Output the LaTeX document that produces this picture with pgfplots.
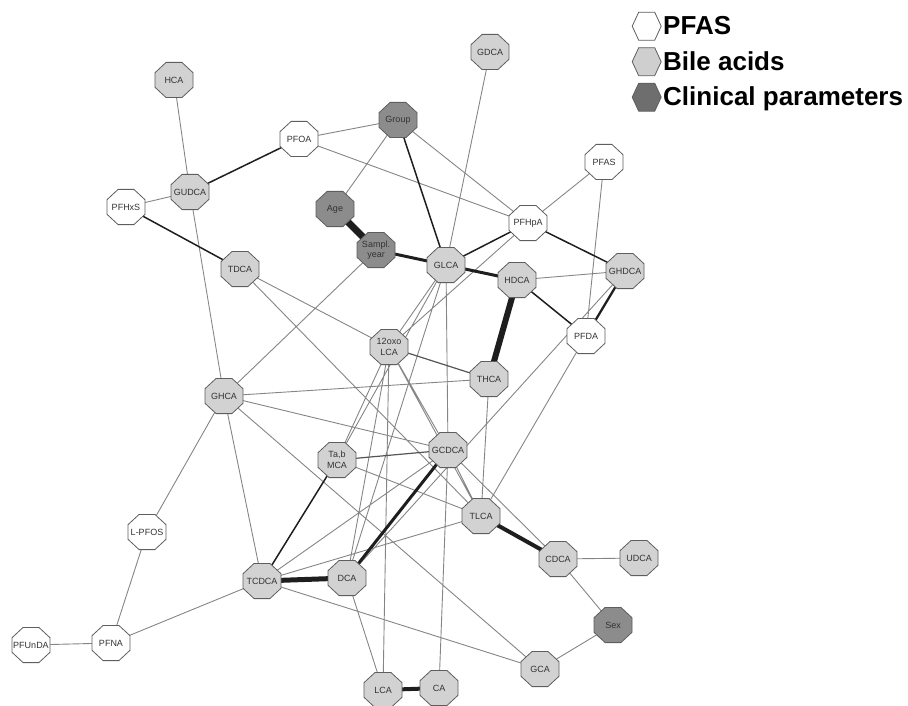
\documentclass[border=0pt]{standalone}
\usepackage{fontspec}
\setmainfont{Liberation Sans}
\usepackage{pgfplots}
\pgfplotsset{compat=1.18}
\definecolor{pfasfill}{HTML}{FFFFFF}
\definecolor{bafill}{HTML}{D2D2D2}
\definecolor{clfill}{HTML}{8C8C8C}
\definecolor{nodeborder}{HTML}{5E5E5E}
\definecolor{thinedge}{HTML}{858585}
\definecolor{midedge}{HTML}{555555}
\definecolor{darkedge}{HTML}{1E1E1E}
\definecolor{labelcol}{HTML}{333333}
\definecolor{legdark}{HTML}{6E6E6E}
\definecolor{leglight}{HTML}{CFCFCF}

\pgfdeclareplotmark{octo}{%
 \pgfpathmoveto{\pgfqpoint{19pt}{7.3pt}}%
 \pgfpathlineto{\pgfqpoint{7.9pt}{17.6pt}}%
 \pgfpathlineto{\pgfqpoint{-7.9pt}{17.6pt}}%
 \pgfpathlineto{\pgfqpoint{-19pt}{7.3pt}}%
 \pgfpathlineto{\pgfqpoint{-19pt}{-7.3pt}}%
 \pgfpathlineto{\pgfqpoint{-7.9pt}{-17.6pt}}%
 \pgfpathlineto{\pgfqpoint{7.9pt}{-17.6pt}}%
 \pgfpathlineto{\pgfqpoint{19pt}{-7.3pt}}%
 \pgfpathclose
 \pgfusepathqfillstroke}
\pgfdeclareplotmark{hexa}{%
 \pgfpathmoveto{\pgfqpoint{14.5pt}{0pt}}%
 \pgfpathlineto{\pgfqpoint{8pt}{14pt}}%
 \pgfpathlineto{\pgfqpoint{-8pt}{14pt}}%
 \pgfpathlineto{\pgfqpoint{-14.5pt}{0pt}}%
 \pgfpathlineto{\pgfqpoint{-8pt}{-14pt}}%
 \pgfpathlineto{\pgfqpoint{8pt}{-14pt}}%
 \pgfpathclose
 \pgfusepathqfillstroke}

\begin{document}
\begin{tikzpicture}
\begin{axis}[name=ax,
  width=908pt, height=706pt, scale only axis,
  xmin=0, xmax=908, ymin=0, ymax=706, y dir=reverse,
  hide axis, clip=false, unbounded coords=jump,
  legend style={at={(axis cs:629,10)}, anchor=north west, draw=none, fill=none,
    font=\bfseries\fontsize{26}{29}\selectfont, row sep=7.5pt,
    nodes={inner sep=2pt},
    /tikz/every even column/.append style={column sep=4pt}},
  legend cell align=left,
  nodelbl/.style={point meta=explicit symbolic, nodes near coords,
    nodes near coords align=center,
    every node near coord/.append style={anchor=center, font=\fontsize{9}{10.5}\selectfont,
      text=labelcol, align=center, inner sep=0pt}},
]
% ---- thin edges
\addplot[forget plot, no markers, thinedge, line width=0.9pt] coordinates {
(174,80) (190,192) (nan,nan)
(190,192) (126,207) (nan,nan)
(190,192) (224,396) (nan,nan)
(299,139) (398,120) (nan,nan)
(299,139) (528,223) (nan,nan)
(398,120) (335,209) (nan,nan)
(398,120) (528,223) (nan,nan)
(376,250) (224,396) (nan,nan)
(490,52) (446,265) (nan,nan)
(604,162) (528,223) (nan,nan)
(604,162) (586,336) (nan,nan)
(528,223) (389,347) (nan,nan)
(517,280) (625,271) (nan,nan)
(625,271) (347,578) (nan,nan)
(586,336) (481,516) (nan,nan)
(446,265) (389,347) (nan,nan)
(446,265) (337,460) (nan,nan)
(446,265) (347,578) (nan,nan)
(446,265) (448,450) (nan,nan)
(448,450) (439,688) (nan,nan)
(240,269) (389,347) (nan,nan)
(240,269) (481,516) (nan,nan)
(389,347) (337,460) (nan,nan)
(389,347) (347,578) (nan,nan)
(389,347) (383,690) (nan,nan)
(389,347) (448,450) (nan,nan)
(389,347) (481,516) (nan,nan)
(489,379) (224,396) (nan,nan)
(489,379) (481,516) (nan,nan)
(224,396) (448,450) (nan,nan)
(224,396) (540,669) (nan,nan)
(224,396) (262,581) (nan,nan)
(224,396) (147,532) (nan,nan)
(147,532) (111,643) (nan,nan)
(111,643) (31,645) (nan,nan)
(111,643) (262,581) (nan,nan)
(262,581) (448,450) (nan,nan)
(262,581) (481,516) (nan,nan)
(262,581) (540,669) (nan,nan)
(337,460) (481,516) (nan,nan)
(448,450) (481,516) (nan,nan)
(448,450) (558,559) (nan,nan)
(347,578) (383,690) (nan,nan)
(558,559) (639,558) (nan,nan)
(558,559) (613,625) (nan,nan)
(613,625) (540,669)
};
% ---- medium edges
\addplot[forget plot, no markers, midedge, line width=1.2pt] coordinates {
(337,460) (448,450) (nan,nan)
(389,347) (489,379)
};
% ---- dark edges
\addplot[forget plot, no markers, darkedge, line width=1.5pt] coordinates {
(190,192) (299,139) (nan,nan)
(126,207) (240,269) (nan,nan)
(398,120) (446,265) (nan,nan)
(528,223) (446,265) (nan,nan)
(528,223) (625,271) (nan,nan)
(517,280) (586,336) (nan,nan)
(337,460) (262,581)
};
\addplot[forget plot, no markers, darkedge, line width=2.3pt] coordinates {(625,271) (586,336)};
% ---- thick edges
\addplot[forget plot, no markers, darkedge, line width=3pt] coordinates {(347,578) (448,450)};
\addplot[forget plot, no markers, darkedge, line width=3pt] coordinates {(376,250) (446,265)};
\addplot[forget plot, no markers, darkedge, line width=3pt] coordinates {(446,265) (517,280)};
\addplot[forget plot, no markers, darkedge, line width=4pt] coordinates {(383,690) (439,688)};
\addplot[forget plot, no markers, darkedge, line width=4pt] coordinates {(481,516) (558,559)};
\addplot[forget plot, no markers, darkedge, line width=5pt] coordinates {(262,581) (347,578)};
\addplot[forget plot, no markers, darkedge, line width=6pt] coordinates {(517,280) (489,379)};
\addplot[forget plot, no markers, darkedge, line width=7pt] coordinates {(335,209) (376,250)};
% ---- nodes: PFAS
\addplot[forget plot, only marks, mark=octo, mark options={fill=pfasfill, draw=nodeborder, line width=0.8pt}, nodelbl] coordinates {
(299,139) [PFOA]
(126,207) [PFHxS]
(604,162) [PFAS]
(528,223) [PFHpA]
(586,336) [PFDA]
(147,532) [L-PFOS]
(111,643) [PFNA]
(31,645) [PFUnDA]
};
% ---- nodes: bile acids
\addplot[forget plot, only marks, mark=octo, mark options={fill=bafill, draw=nodeborder, line width=0.8pt}, nodelbl] coordinates {
(174,80) [HCA]
(490,52) [GDCA]
(190,192) [GUDCA]
(240,269) [TDCA]
(446,265) [GLCA]
(517,280) [HDCA]
(625,271) [GHDCA]
(389,347) [{12oxo\\LCA}]
(489,379) [THCA]
(224,396) [GHCA]
(337,460) [{Ta,b\\MCA}]
(448,450) [GCDCA]
(481,516) [TLCA]
(262,581) [TCDCA]
(347,578) [DCA]
(558,559) [CDCA]
(639,558) [UDCA]
(540,669) [GCA]
(383,690) [LCA]
(439,688) [CA]
};
% ---- nodes: clinical parameters
\addplot[forget plot, only marks, mark=octo, mark options={fill=clfill, draw=nodeborder, line width=0.8pt}, nodelbl] coordinates {
(398,120) [Group]
(335,209) [Age]
(376,250) [{Sampl.\\year}]
(613,625) [Sex]
};
% ---- legend
\addlegendimage{only marks, mark=hexa, mark options={fill=white, draw=nodeborder, line width=0.8pt}}
\addlegendentry{PFAS}
\addlegendimage{only marks, mark=hexa, mark options={fill=leglight, draw=nodeborder, line width=0.8pt}}
\addlegendentry{Bile acids}
\addlegendimage{only marks, mark=hexa, mark options={fill=legdark, draw=nodeborder, line width=0.8pt}}
\addlegendentry{Clinical parameters}
\end{axis}
\pgfresetboundingbox
\path[use as bounding box] (ax.south west) rectangle (ax.north east);
\end{tikzpicture}
\end{document}
